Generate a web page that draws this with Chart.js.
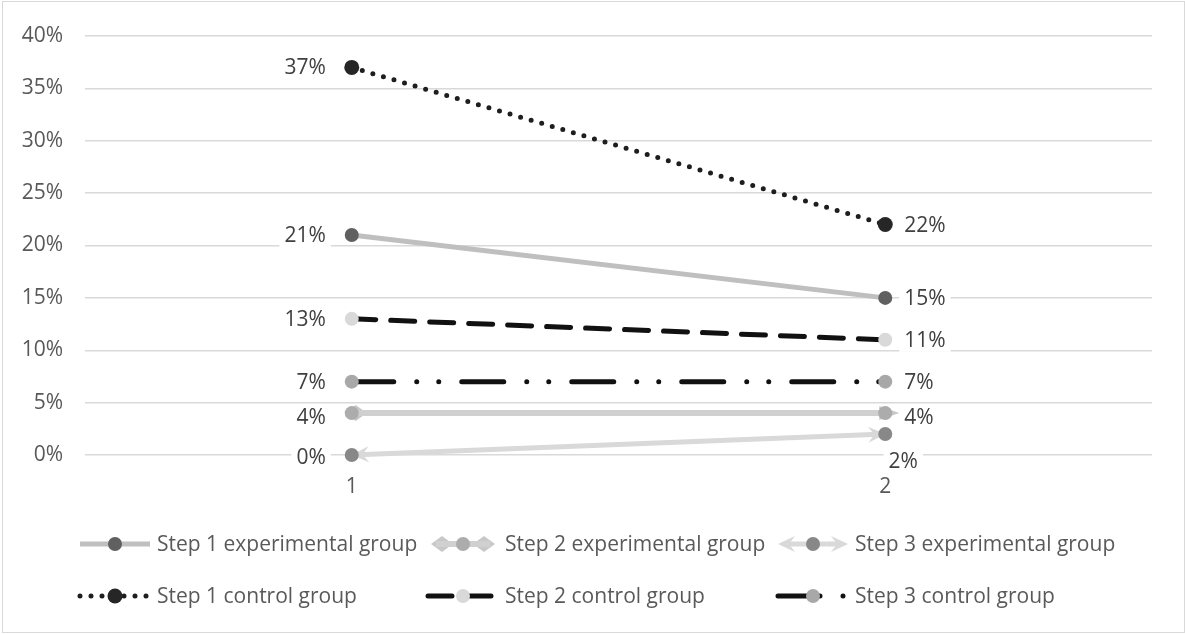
<!DOCTYPE html>
<html>
<head>
<meta charset="utf-8">
<script src="https://cdn.jsdelivr.net/npm/chart.js@4"></script>
<style>
  html, body { margin: 0; padding: 0; background: #fff; }
  #wrap { position: relative; width: 1185px; height: 634px; }
</style>
</head>
<body>
<div id="wrap"><canvas id="stepChart"></canvas></div>
<script>
// data
const categories = ['1', '2'];
const step1Exp = [21, 15];
const step2Exp = [4, 4];
const step3Exp = [0, 2];
const step1Ctrl = [37, 22];
const step2Ctrl = [13, 11];
const step3Ctrl = [7, 7];
const yTicks = [0, 5, 10, 15, 20, 25, 30, 35, 40];

const FONT = "'Open Sans', 'Noto Sans', sans-serif";
const FSIZE = 21;
const textGrey = '#595959';
const labelGrey = '#404040';

// where each value label sits relative to its point
const labelPlace = [
  [{ pos: 'left' }, { pos: 'right' }],
  [{ pos: 'left', dy: 4 }, { pos: 'right', dy: 4 }],
  [{ pos: 'left', dy: 2 }, { pos: 'below' }],
  [{ pos: 'left' }, { pos: 'right' }],
  [{ pos: 'left' }, { pos: 'right' }],
  [{ pos: 'left' }, { pos: 'right' }]
];

function drawHead(ctx, kind, x, y, ang, color) {
  ctx.save();
  ctx.translate(x, y);
  ctx.rotate(ang);
  ctx.fillStyle = color;
  ctx.beginPath();
  if (kind === 'diamond') {
    ctx.moveTo(7, 0); ctx.lineTo(-4, -8); ctx.lineTo(-15, 0); ctx.lineTo(-4, 8);
  } else if (kind === 'triangle') {
    ctx.moveTo(14, 0); ctx.lineTo(-6, -7); ctx.lineTo(-6, 7);
  } else if (kind === 'stealth') {
    ctx.moveTo(0, 0); ctx.lineTo(-17, -8); ctx.lineTo(-11, 0); ctx.lineTo(-17, 8);
  }
  ctx.closePath();
  ctx.fill();
  ctx.restore();
}

function makeSet(label, data, o) {
  return Object.assign({
    label: label,
    data: data,
    fill: false,
    tension: 0,
    clip: false,
    pointRadius: 7,
    pointHoverRadius: 7,
    pointBorderWidth: 0,
    borderCapStyle: 'butt',
    borderJoinStyle: 'round'
  }, o, { pointBorderColor: o.pointBackgroundColor });
}

const datasets = [
  makeSet('Step 1 experimental group', step1Exp, {
    borderColor: '#bfbfbf', borderWidth: 5, pointBackgroundColor: '#606060'
  }),
  makeSet('Step 2 experimental group', step2Exp, {
    borderColor: '#d0d0d0', borderWidth: 6, pointBackgroundColor: '#acacac',
    heads: ['diamond', 'triangle'], legendHeads: ['diamond', 'diamond'], headColor: '#c8c8c8'
  }),
  makeSet('Step 3 experimental group', step3Exp, {
    borderColor: '#d9d9d9', borderWidth: 5, pointBackgroundColor: '#888888',
    heads: ['stealth', 'stealth'], legendHeads: ['stealth', 'stealth'], headColor: '#d9d9d9'
  }),
  makeSet('Step 1 control group', step1Ctrl, {
    borderColor: '#1e1e1e', borderWidth: 5, borderDash: [0, 11], borderCapStyle: 'round',
    pointBackgroundColor: '#262626', pointRadius: 7.5
  }),
  makeSet('Step 2 control group', step2Ctrl, {
    borderColor: '#111111', borderWidth: 5, borderDash: [24, 15], borderCapStyle: 'round',
    pointBackgroundColor: '#d9d9d9'
  }),
  makeSet('Step 3 control group', step3Ctrl, {
    borderColor: '#111111', borderWidth: 5, borderDash: [42, 23, 0, 22, 0, 23], borderCapStyle: 'round',
    pointBackgroundColor: '#a8a8a8'
  })
];

// outer frame
const framePlugin = {
  id: 'frame',
  beforeDraw(chart) {
    const ctx = chart.ctx;
    ctx.save();
    ctx.fillStyle = '#fff';
    ctx.fillRect(0, 0, chart.width, chart.height);
    ctx.strokeStyle = '#d9d9d9';
    ctx.lineWidth = 1;
    ctx.strokeRect(2.5, 1.5, chart.width - 3, chart.height - 3);
    ctx.restore();
  }
};

// arrow / diamond ends under the line
const headsPlugin = {
  id: 'heads',
  beforeDatasetDraw(chart, args) {
    const ds = chart.data.datasets[args.index];
    if (!ds.heads) return;
    const pts = args.meta.data;
    const a = pts[0], b = pts[pts.length - 1];
    const ang = Math.atan2(b.y - a.y, b.x - a.x);
    drawHead(chart.ctx, ds.heads[0], a.x, a.y, ang + Math.PI, ds.headColor);
    drawHead(chart.ctx, ds.heads[1], b.x, b.y, ang, ds.headColor);
  }
};

// value labels with white backing
const valueLabels = {
  id: 'valueLabels',
  afterDatasetsDraw(chart) {
    const ctx = chart.ctx;
    ctx.save();
    ctx.font = FSIZE + 'px ' + FONT;
    ctx.textBaseline = 'middle';
    chart.data.datasets.forEach((ds, i) => {
      chart.getDatasetMeta(i).data.forEach((pt, j) => {
        const txt = ds.data[j] + '%';
        const pl = labelPlace[i][j];
        const w = ctx.measureText(txt).width;
        let x, y = pt.y + (pl.dy || 0);
        if (pl.pos === 'left') x = pt.x - 26 - w;
        else if (pl.pos === 'right') x = pt.x + 19;
        else { x = pt.x + 18 - w / 2; y = pt.y + 27; }
        ctx.fillStyle = '#fff';
        ctx.fillRect(x - 5, y - 12, w + 10, 24);
        ctx.fillStyle = labelGrey;
        ctx.textAlign = 'left';
        ctx.fillText(txt, x, y + 1);
      });
    });
    ctx.restore();
  }
};

// two-row legend with line + marker samples
const legendPlugin = {
  id: 'sampleLegend',
  afterDraw(chart) {
    const ctx = chart.ctx;
    const cols = [157, 505, 855];
    const rows = [544, 596];
    ctx.save();
    chart.data.datasets.forEach((ds, i) => {
      const tx = cols[i % 3], y = rows[Math.floor(i / 3)];
      const x0 = tx - 77, x1 = tx - 7, xc = tx - 42;
      const hd = ds.legendHeads;
      if (hd) {
        drawHead(ctx, hd[0], x0 + (hd[0] === 'stealth' ? 0 : 10), y, Math.PI, ds.headColor);
        drawHead(ctx, hd[1], x1 - (hd[1] === 'stealth' ? 0 : 10), y, 0, ds.headColor);
      }
      ctx.strokeStyle = ds.borderColor;
      ctx.lineWidth = ds.borderWidth;
      ctx.lineCap = ds.borderCapStyle;
      ctx.setLineDash(ds.borderDash || []);
      ctx.beginPath();
      ctx.moveTo(x0 + (hd ? 8 : 0), y);
      ctx.lineTo(x1 - (hd ? 8 : 0), y);
      ctx.stroke();
      ctx.setLineDash([]);
      ctx.fillStyle = ds.pointBackgroundColor;
      ctx.beginPath();
      ctx.arc(xc, y, ds.pointRadius, 0, Math.PI * 2);
      ctx.fill();
      ctx.fillStyle = textGrey;
      ctx.font = FSIZE + 'px ' + FONT;
      ctx.textBaseline = 'middle';
      ctx.textAlign = 'left';
      ctx.fillText(ds.label, tx, y + 1);
    });
    ctx.restore();
  }
};

new Chart(document.getElementById('stepChart'), {
  type: 'line',
  data: { labels: categories, datasets: datasets },
  plugins: [framePlugin, headsPlugin, valueLabels, legendPlugin],
  options: {
    responsive: true,
    maintainAspectRatio: false,
    animation: false,
    layout: { padding: { top: 36, right: 33, left: 0, bottom: 0 } },
    plugins: {
      legend: { display: false },
      tooltip: { enabled: false }
    },
    scales: {
      x: {
        offset: true,
        grid: { display: false, drawTicks: false },
        border: { display: false },
        ticks: { color: textGrey, font: { family: FONT, size: FSIZE }, padding: 19 },
        afterFit(s) { s.height = 179; }
      },
      y: {
        min: 0,
        max: 40,
        afterBuildTicks(s) { s.ticks = yTicks.map(v => ({ value: v })); },
        grid: { color: '#d9d9d9', lineWidth: 1.5, drawTicks: false },
        border: { display: false },
        ticks: {
          color: textGrey,
          font: { family: FONT, size: FSIZE },
          padding: 22,
          callback: v => v + '%'
        },
        afterFit(s) { s.width = 85; }
      }
    }
  }
});
</script>
</body>
</html>
